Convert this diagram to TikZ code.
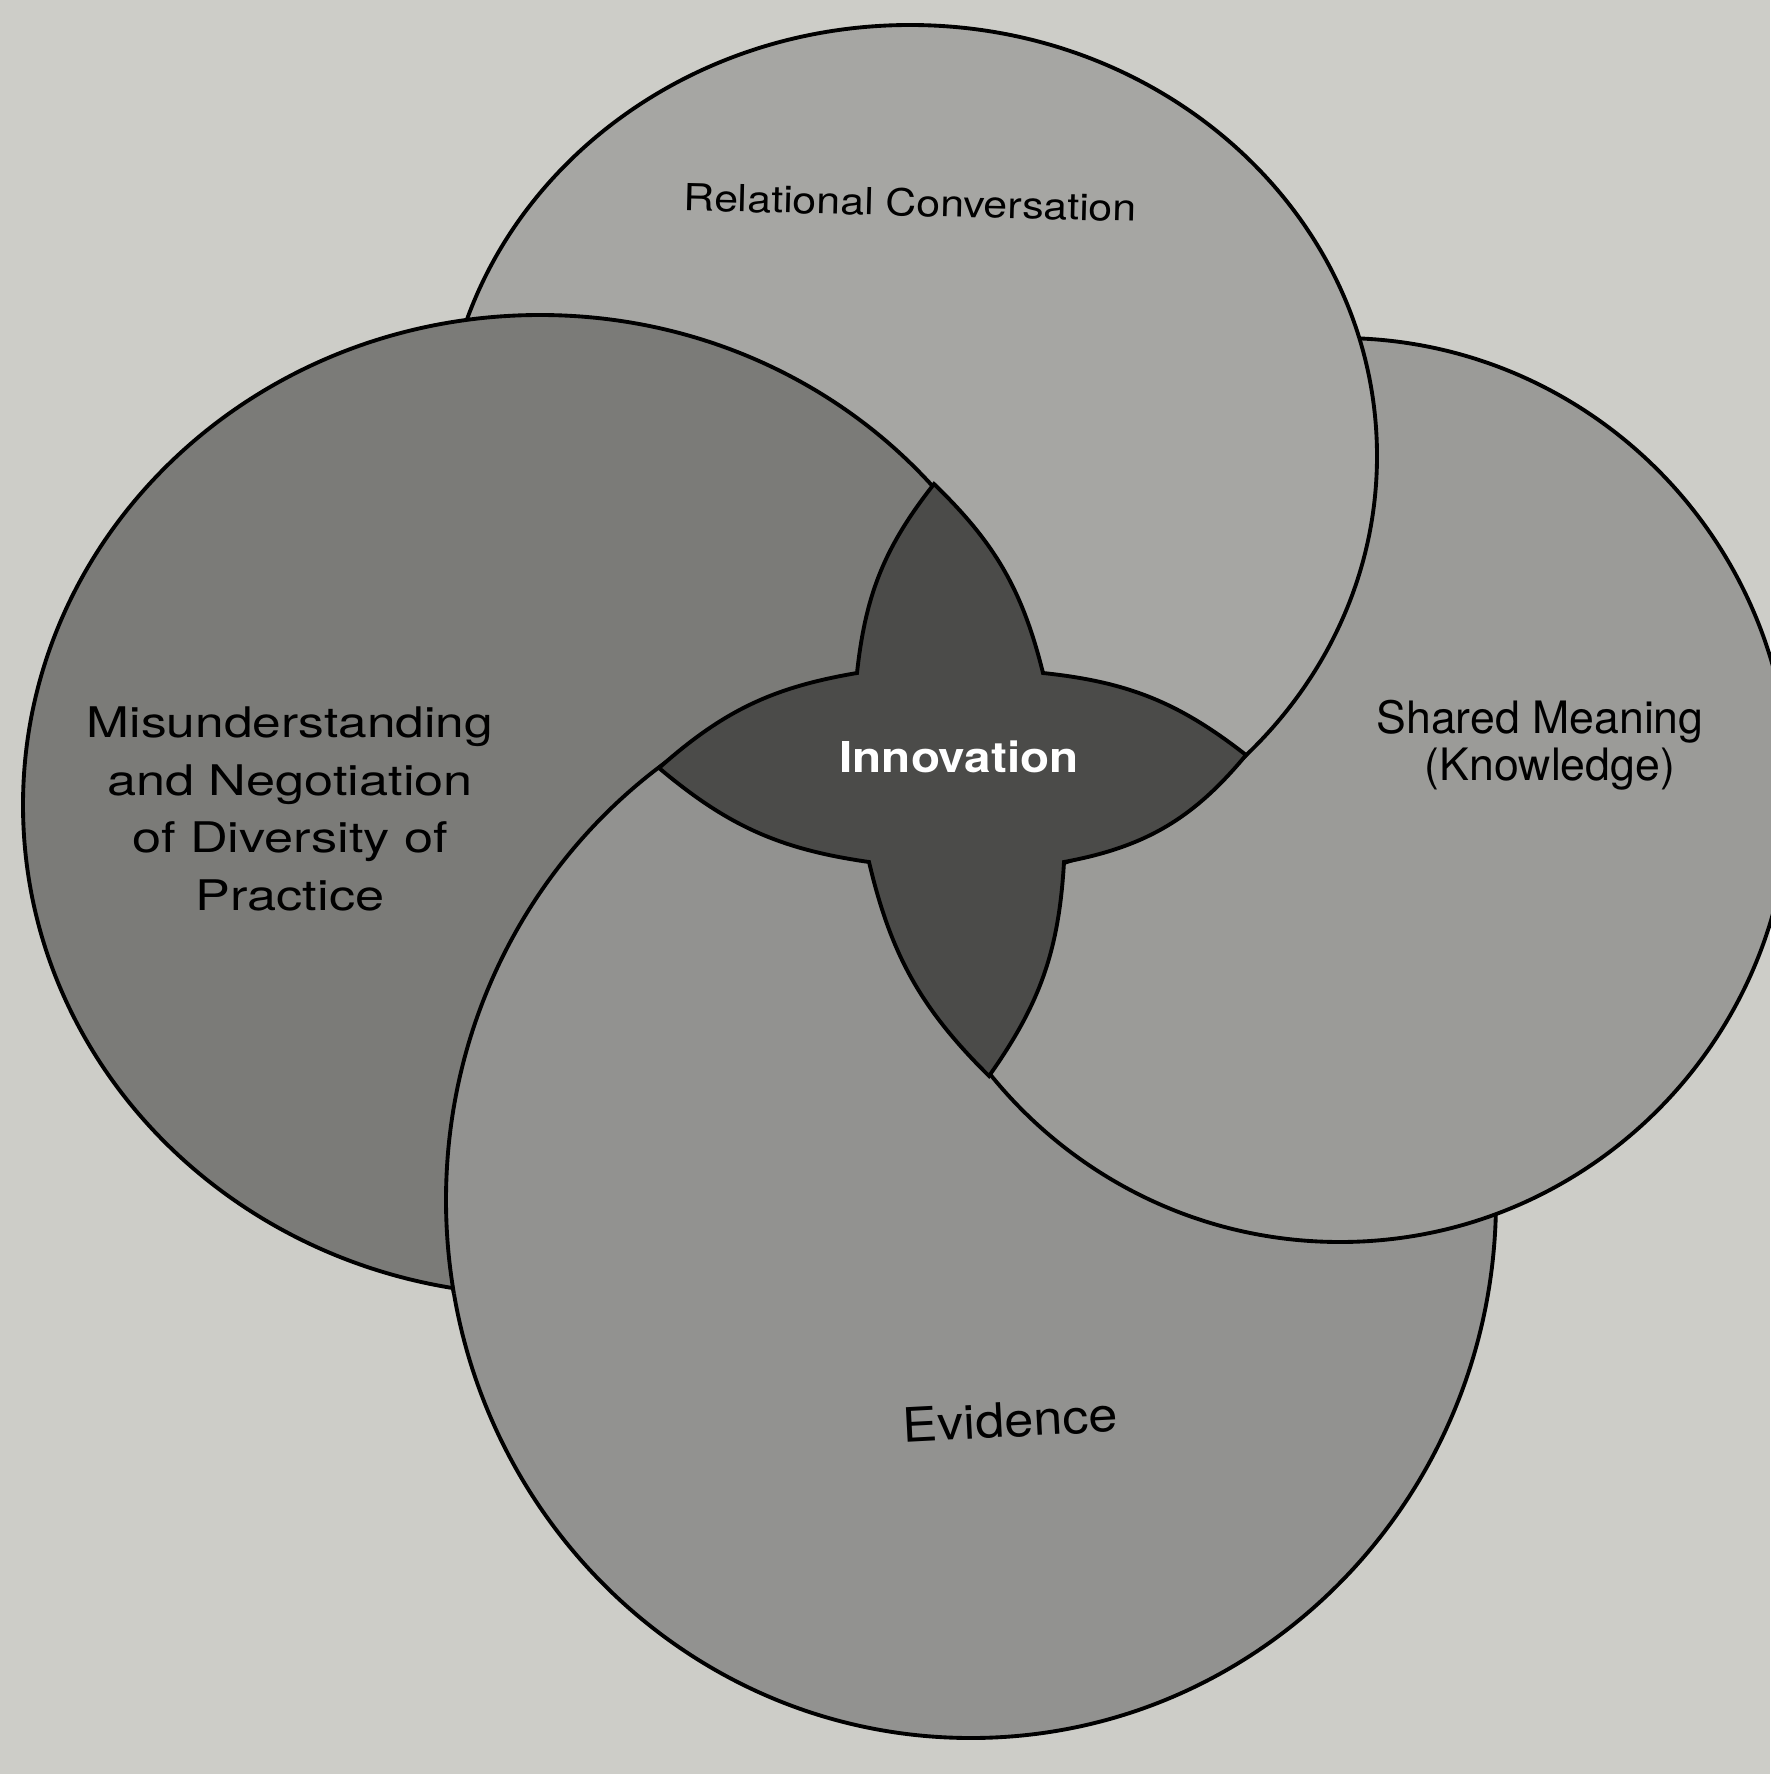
\documentclass[tikz,border=0pt]{standalone}
\usepackage{fontspec}
\usepackage{graphicx}
\setmainfont{TeX Gyre Heros}

\definecolor{paper}{HTML}{CDCDC8}
\definecolor{topgray}{HTML}{A6A6A3}
\definecolor{rightgray}{HTML}{9B9B98}
\definecolor{bottomgray}{HTML}{929290}
\definecolor{leftgray}{HTML}{7B7B78}
\definecolor{stargray}{HTML}{4B4B49}

% Text widened along the line only.
\newcommand{\stretched}[2]{\scalebox{#1}[1]{#2}}

% The four rings, as paths (centres are set inside the picture).
\newcommand{\topring}{(TC) ellipse [x radius = 46.7mm, y radius = 43.1mm]}
\newcommand{\rightring}{(RC) ellipse [x radius = 45.0mm, y radius = 45.2mm]}
\newcommand{\bottomring}{(BC) ellipse [x radius = 52.5mm, y radius = 53.8mm]}
\newcommand{\leftring}{(LC) ellipse [x radius = 51.7mm, y radius = 49.0mm]}
\newcommand{\leftclip}{(LC) ellipse [x radius = 52.2mm, y radius = 49.5mm]}

\tikzset{
    ring/.style = {draw = black, line width = 1.1pt},
    ringtext/.style = {inner sep = 0pt, text = black, align = center}
}

\begin{document}
\begin{tikzpicture}[x = 0.1mm, y = -0.1mm]

        % Page and frame.
        \fill[paper] (0, 0) rectangle (1770, 1774);
        \useasboundingbox (0, 0) rectangle (1770, 1774);

        % Centres of the rings.
        \coordinate (TC) at (910, 456);
        \coordinate (RC) at (1340, 790);
        \coordinate (BC) at (971, 1200);
        \coordinate (LC) at (540, 805);

        % Points of the star in the middle.
        \coordinate (T) at (934, 484);
        \coordinate (NE) at (1043, 673);
        \coordinate (R) at (1246, 755);
        \coordinate (SE) at (1064, 862);
        \coordinate (B) at (989, 1076);
        \coordinate (SW) at (869, 862);
        \coordinate (L) at (659, 768);
        \coordinate (NW) at (857, 673);

        % The rings, each lying over the next one round.
        \filldraw[ring, fill = bottomgray] \bottomring;
        \filldraw[ring, fill = rightgray] \rightring;
        \filldraw[ring, fill = topgray] \topring;
        \filldraw[ring, fill = leftgray] \leftring;
        \begin{scope}
            \clip \leftclip;
            \filldraw[ring, fill = bottomgray] \bottomring;
        \end{scope}

        % The star.
        \filldraw[ring, fill = stargray]
            (T) to[bend left = 16] (NE) to[bend left = 16] (R)
            to[bend left = 20] (SE) to[bend left = 16] (B)
            to[bend left = 16] (SW) to[bend left = 16] (L)
            to[bend left = 16] (NW) to[bend left = 16] cycle;

        % Label everything.
        \node[ringtext, anchor = base, rotate = -1.4,
              font = \fontsize{10.6}{12}\selectfont] (relational) at (910, 216)
            {\stretched{1.15}{Relational Conversation}};
        \node[ringtext, font = \fontsize{12}{16.4}\selectfont] (misunderstanding) at (290, 809)
            {\stretched{1.22}{Misunderstanding}\\
             \stretched{1.24}{and Negotiation}\\
             \stretched{1.24}{of Diversity of}\\
             \stretched{1.24}{Practice}};
        \node[ringtext, font = \fontsize{12.7}{13.4}\selectfont] (shared) at (1540, 745)
            {Shared Meaning\\\hspace*{2mm}(Knowledge)};
        \node[ringtext, anchor = base, text = white,
              font = \fontsize{12.1}{14}\selectfont\bfseries] (innovation) at (959, 772)
            {\stretched{1.12}{Innovation}};
        \node[ringtext, anchor = base, rotate = 3,
              font = \fontsize{13.5}{16}\selectfont] (evidence) at (1011, 1437)
            {\stretched{1.1}{Evidence}};
    \end{tikzpicture}
\end{document}
